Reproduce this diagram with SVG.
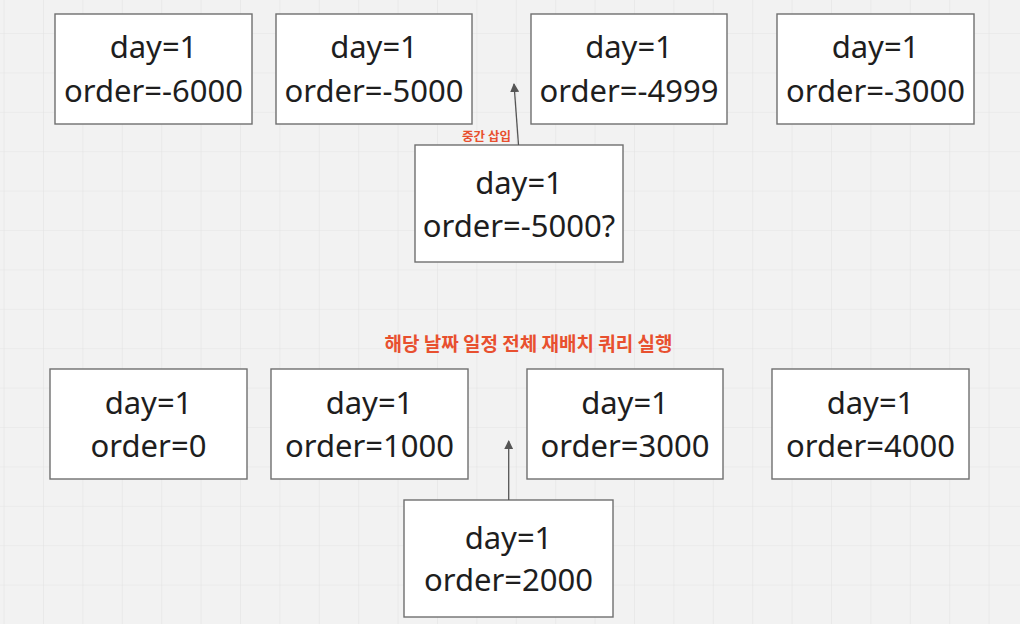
<svg xmlns="http://www.w3.org/2000/svg" width="1020" height="624" viewBox="0 0 1020 624">
<defs>
<pattern id="grid" x="43" y="33" width="39.4" height="39.4" patternUnits="userSpaceOnUse">
<path d="M0 0H39.4M0 0V39.4" fill="none" stroke="#e3e3e3" stroke-width="1.2"/>
</pattern>
<marker id="ah" viewBox="0 0 10 10" refX="9" refY="5" markerWidth="9" markerHeight="9" markerUnits="userSpaceOnUse" orient="auto">
<path d="M0 0L10 5L0 10z" fill="#555"/>
</marker>
</defs>
<style>
.box{fill:#fff;stroke:#6f6f6f;stroke-width:1.4}
.t{font-family:"Noto Sans","Open Sans",sans-serif;font-size:31px;fill:#1e1e1e;text-anchor:middle}
.lbl{font-family:"Noto Sans CJK KR","Noto Sans",sans-serif;font-weight:bold;fill:#e8502f;text-anchor:middle}
.c{fill:none;stroke:#555;stroke-width:1.3}
</style>
<rect width="1020" height="624" fill="#f2f2f2"/>
<rect width="1020" height="624" fill="url(#grid)"/>
<g id="n1"><rect class="box" x="55" y="14" width="197" height="110"/><text class="t" x="153.5" y="58">day=1</text><text class="t" x="153.5" y="102">order=-6000</text></g>
<g id="n2"><rect class="box" x="276" y="14" width="196" height="110"/><text class="t" x="374" y="58">day=1</text><text class="t" x="374" y="102">order=-5000</text></g>
<g id="n3"><rect class="box" x="531" y="14" width="196" height="110"/><text class="t" x="629" y="58">day=1</text><text class="t" x="629" y="102">order=-4999</text></g>
<g id="n4"><rect class="box" x="777" y="14" width="197" height="110"/><text class="t" x="875.5" y="58">day=1</text><text class="t" x="875.5" y="102">order=-3000</text></g>
<g id="n5"><rect class="box" x="415" y="145" width="208" height="117"/><text class="t" x="519" y="194">day=1</text><text class="t" x="519" y="237">order=-5000?</text></g>
<g id="n6"><rect class="box" x="50" y="369" width="197" height="110"/><text class="t" x="148.5" y="414">day=1</text><text class="t" x="148.5" y="457">order=0</text></g>
<g id="n7"><rect class="box" x="271" y="369" width="197" height="110"/><text class="t" x="369.5" y="414">day=1</text><text class="t" x="369.5" y="457">order=1000</text></g>
<g id="n8"><rect class="box" x="527" y="369" width="196" height="110"/><text class="t" x="625" y="414">day=1</text><text class="t" x="625" y="457">order=3000</text></g>
<g id="n9"><rect class="box" x="772" y="369" width="197" height="110"/><text class="t" x="870.5" y="414">day=1</text><text class="t" x="870.5" y="457">order=4000</text></g>
<g id="n10"><rect class="box" x="404" y="500" width="209" height="117"/><text class="t" x="508.5" y="549">day=1</text><text class="t" x="508.5" y="591">order=2000</text></g>
<g id="connectors">
<line class="c" x1="518.5" y1="145" x2="514" y2="84" marker-end="url(#ah)"/>
<line class="c" x1="508.7" y1="500" x2="508.7" y2="441" marker-end="url(#ah)"/>
</g>
<text class="lbl" x="486.5" y="141" font-size="12.5">중간 삽입</text>
<text class="lbl" x="528.5" y="351" font-size="19">해당 날짜 일정 전체 재배치 쿼리 실행</text>
</svg>
